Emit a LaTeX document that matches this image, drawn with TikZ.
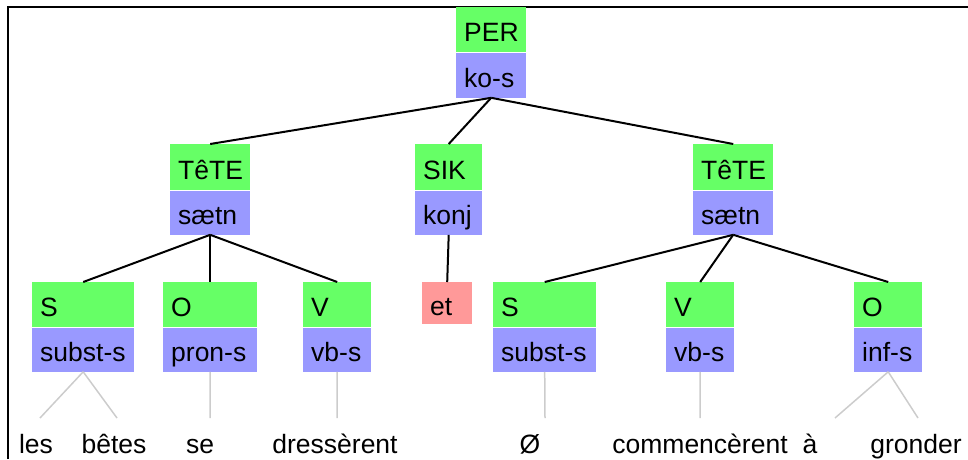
\documentclass[tikz,border=0pt]{standalone}
\usepackage{fontspec}
\setmainfont{Liberation Sans}
\usepackage{tikz}
\usetikzlibrary{positioning}
\definecolor{catgreen}{RGB}{102,255,102}
\definecolor{funblue}{RGB}{153,153,255}
\definecolor{wordred}{RGB}{255,153,153}

\begin{document}
\begin{tikzpicture}[x=1pt, y=-1pt,
    box/.style={anchor=north west, inner xsep=8pt, inner ysep=0pt, align=left,
        text height=24pt, text depth=0pt, font=\fontsize{26.5}{30}\selectfont},
    cat/.style={box, fill=catgreen, minimum height=45pt},
    fun/.style={box, fill=funblue, minimum height=44pt},
    word/.style={anchor=base, font=\fontsize{26.5}{30}\selectfont},
    branch/.style={line width=2pt},
    leaf/.style={line width=1.5pt, draw=black!20}]
    \useasboundingbox (0,0) rectangle (968,459);
    \draw[line width=2pt] (8,459) -- (8,7) -- (968,7);

    % Top
    \node[cat, text width=54pt] (per) at (456,7) {PER};
    \node[fun, text width=54pt, minimum height=45pt] (kos) at (per.south west) {ko-s};

    % Middle row
    \node[cat, text width=64pt, minimum height=46pt] (tete1) at (170,144) {TêTE};
    \node[fun, text width=64pt] (saetn1) at (tete1.south west) {sætn};
    \node[cat, text width=51pt, minimum height=46pt] (sik) at (415,144) {SIK};
    \node[fun, text width=51pt] (konj) at (sik.south west) {konj};
    \node[cat, text width=64pt, minimum height=46pt] (tete2) at (693,144) {TêTE};
    \node[fun, text width=64pt] (saetn2) at (tete2.south west) {sætn};
    \draw[branch] (kos.south) -- (tete1.north);
    \draw[branch] (kos.south) -- (sik.north);
    \draw[branch] (kos.south) -- (tete2.north);

    % Bottom row
    \node[cat, text width=86pt] (s1) at (32,282) {S};
    \node[fun, text width=86pt] (subst1) at (s1.south west) {subst-s};
    \node[cat, text width=78pt] (o1) at (163,282) {O};
    \node[fun, text width=78pt] (pron1) at (o1.south west) {pron-s};
    \node[cat, text width=52pt] (v1) at (303,282) {V};
    \node[fun, text width=52pt] (vb1) at (v1.south west) {vb-s};
    \node[box, fill=wordred, text width=34pt, minimum height=42pt] (et) at (422,282) {et};
    \node[cat, text width=87pt] (s2) at (493,282) {S};
    \node[fun, text width=87pt] (subst2) at (s2.south west) {subst-s};
    \node[cat, text width=52pt] (v2) at (666,282) {V};
    \node[fun, text width=52pt] (vb2) at (v2.south west) {vb-s};
    \node[cat, text width=52pt] (o2) at (854,282) {O};
    \node[fun, text width=52pt] (inf2) at (o2.south west) {inf-s};
    \foreach \c in {s1,o1,v1} \draw[branch] (saetn1.south) -- (\c.north);
    \draw[branch] (konj.south) -- (et.north);
    \foreach \c in {s2,v2,o2} \draw[branch] (saetn2.south) -- (\c.north);

    % Words
    \node[word] (les) at (36,453) {les};
    \node[word] (betes) at (114,453) {bêtes};
    \node[word] (se) at (200,453) {se};
    \node[word] (dresserent) at (335,453) {dressèrent};
    \node[word] (zero) at (530,453) {Ø};
    \node[word] (commencerent) at (700,453) {commencèrent};
    \node[word] (a) at (810,453) {à};
    \node[word] (gronder) at (916,453) {gronder};
    \coordinate (lesT) at (40,418);
    \coordinate (betesT) at (117,418);
    \coordinate (seT) at (210,418);
    \coordinate (dresserentT) at (337,418);
    \coordinate (zeroT) at (545,418);
    \coordinate (commencerentT) at (700,418);
    \coordinate (aT) at (835,418);
    \coordinate (gronderT) at (918,418);
    \draw[leaf] (subst1.south) -- (lesT);
    \draw[leaf] (subst1.south) -- (betesT);
    \draw[leaf] (pron1.south) -- (seT);
    \draw[leaf] (vb1.south) -- (dresserentT);
    \draw[leaf] (subst2.south) -- (zeroT);
    \draw[leaf] (vb2.south) -- (commencerentT);
    \draw[leaf] (inf2.south) -- (aT);
    \draw[leaf] (inf2.south) -- (gronderT);
\end{tikzpicture}
\end{document}
